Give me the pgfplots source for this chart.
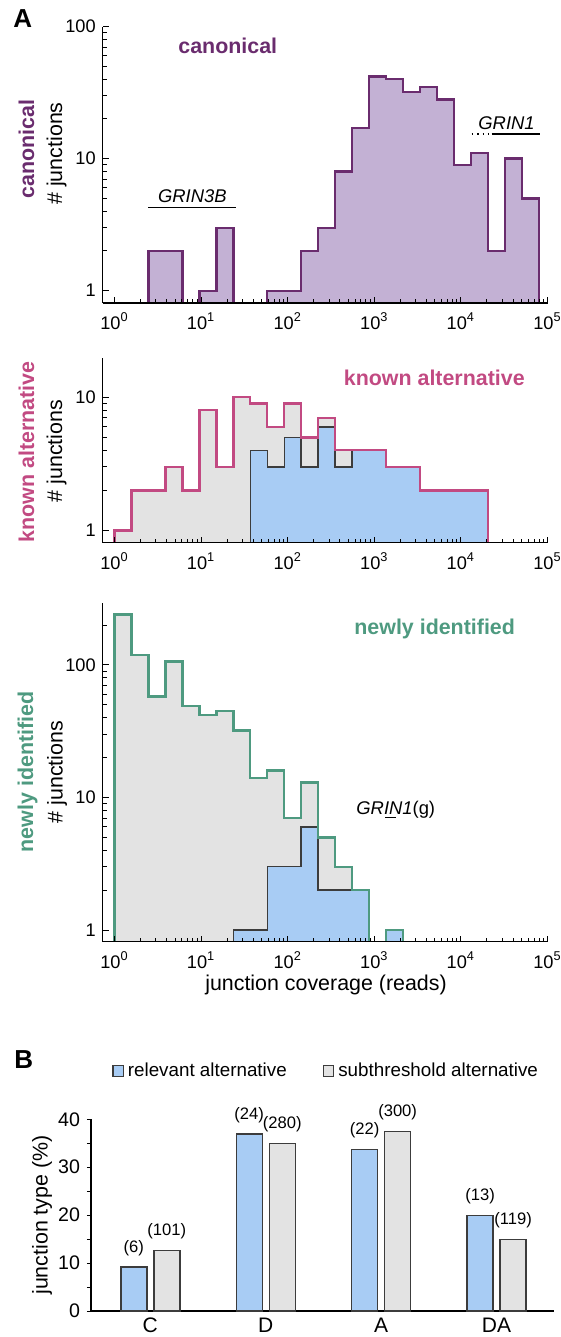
\documentclass[border=0pt]{standalone}
\usepackage{fontspec}
\setmainfont{Liberation Sans}
\usepackage{pgfplots}
\pgfplotsset{compat=1.18}

\definecolor{purpL}{HTML}{6A2C6E}
\definecolor{purpF}{HTML}{C3B1D4}
\definecolor{pinkL}{HTML}{C24A82}
\definecolor{greenL}{HTML}{4E9A80}
\definecolor{blueF}{HTML}{A8CCF4}
\definecolor{grayF}{HTML}{E3E3E3}
\definecolor{outl}{HTML}{3C3C3C}

\newcommand\tickfont{\fontsize{9.1}{10.5}\selectfont}
\newcommand\labfont{\fontsize{10.7}{12.5}\selectfont}
\newcommand\genefont{\fontsize{9.2}{11}\selectfont\itshape}

\pgfplotsset{
 histax/.style={
  anchor=south west, scale only axis, width=222.35pt,
  xmin=0.733, xmax=100000,
  axis x line=bottom, axis y line=left,
  axis line style={-, line width=0.6pt},
  tick align=inside, axis on top,
  major tick length=3pt, minor tick length=2pt,
  tick style={black, line width=0.5pt},
  tick label style={font=\tickfont},
  xtick={1,10,100,1000,10000,100000},
  xticklabels={10\textsuperscript{0},10\textsuperscript{1},10\textsuperscript{2},10\textsuperscript{3},10\textsuperscript{4},10\textsuperscript{5}},
  minor xtick={2,3,4,5,6,7,8,9,20,30,40,50,60,70,80,90,200,300,400,500,600,700,800,900,2000,3000,4000,5000,6000,7000,8000,9000,20000,30000,40000,50000,60000,70000,80000,90000},
  xticklabel style={yshift=-1.5pt},
 }
}

\begin{document}
\begin{tikzpicture}
\useasboundingbox (0,0) rectangle (280.5pt,-668.5pt);

% ---------------- canonical ----------------
\begin{axis}[xmode=log, ymode=log, histax, at={(51.4pt,-151.5pt)}, height=138.15pt,
  ymin=0.807, ymax=100, ytick={1,10,100}, yticklabels={1,10,100},
  minor ytick={2,3,4,5,6,7,8,9,20,30,40,50,60,70,80,90}]
\addplot[fill=purpF, draw=purpL, line width=1.2pt] coordinates {
(2.466,0.5) (2.466,2) (6.081,2) (6.081,0.5) (9.550,0.5) (9.550,1) (15.00,1) (15.00,3) (23.55,3) (23.55,0.5)
(58.08,0.5) (58.08,1) (143.2,1) (143.2,2) (224.9,2) (224.9,3) (353.2,3) (353.2,8) (554.6,8) (554.6,17)
(871.0,17) (871.0,42) (1368,42) (1368,40) (2148,40) (2148,32) (3373,32) (3373,35) (5297,35) (5297,28)
(8318,28) (8318,9) (13062,9) (13062,11) (20512,11) (20512,2) (32211,2) (32211,10) (50582,10) (50582,5)
(79433,5) (79433,0.5)};
\end{axis}

% ---------------- known alternative ----------------
\begin{axis}[xmode=log, ymode=log, histax, at={(51.4pt,-271.35pt)}, height=92.2pt,
  ymin=0.81, ymax=19.6, ytick={1,10}, yticklabels={1,10},
  minor ytick={2,3,4,5,6,7,8,9}]
\addplot[fill=grayF, draw=none] coordinates {
(1,0.5) (1,1) (1.570,1) (1.570,2) (3.873,2) (3.873,3) (6.081,3) (6.081,2) (9.550,2) (9.550,8)
(15.00,8) (15.00,3) (23.55,3) (23.55,10) (36.98,10) (36.98,9) (58.08,9) (58.08,6) (91.20,6) (91.20,9)
(143.2,9) (143.2,5) (224.9,5) (224.9,7) (353.2,7) (353.2,4) (1368,4) (1368,3) (3373,3) (3373,2)
(20512,2) (20512,0.5)};
\addplot[fill=blueF, draw=outl, line width=0.7pt] coordinates {
(36.98,0.5) (36.98,4) (58.08,4) (58.08,3) (91.20,3) (91.20,5) (143.2,5) (143.2,3) (224.9,3) (224.9,6)
(353.2,6) (353.2,3) (554.6,3) (554.6,4) (1368,4) (1368,3) (3373,3) (3373,2) (20512,2) (20512,0.5)};
\addplot[fill=none, draw=pinkL, line width=1.2pt] coordinates {
(1,0.5) (1,1) (1.570,1) (1.570,2) (3.873,2) (3.873,3) (6.081,3) (6.081,2) (9.550,2) (9.550,8)
(15.00,8) (15.00,3) (23.55,3) (23.55,10) (36.98,10) (36.98,9) (58.08,9) (58.08,6) (91.20,6) (91.20,9)
(143.2,9) (143.2,5) (224.9,5) (224.9,7) (353.2,7) (353.2,4) (1368,4) (1368,3) (3373,3) (3373,2)
(20512,2) (20512,0.5)};
\end{axis}

% ---------------- newly identified ----------------
\begin{axis}[xmode=log, ymode=log, histax, at={(51.4pt,-470.85pt)}, height=169.2pt,
  ymin=0.816, ymax=292, ytick={1,10,100}, yticklabels={1,10,100},
  minor ytick={2,3,4,5,6,7,8,9,20,30,40,50,60,70,80,90,200}]
\addplot[fill=grayF, draw=none] coordinates {
(1,0.5) (1,240) (1.570,240) (1.570,119) (2.466,119) (2.466,58) (3.873,58) (3.873,106) (6.081,106) (6.081,49)
(9.550,49) (9.550,42) (15.00,42) (15.00,45) (23.55,45) (23.55,32) (36.98,32) (36.98,14) (58.08,14) (58.08,16)
(91.20,16) (91.20,7) (143.2,7) (143.2,13) (224.9,13) (224.9,5) (353.2,5) (353.2,3) (554.6,3) (554.6,2)
(871.0,2) (871.0,0.5) (1368,0.5) (1368,1) (2148,1) (2148,0.5)};
\addplot[fill=blueF, draw=outl, line width=0.7pt] coordinates {
(23.55,0.5) (23.55,1) (58.08,1) (58.08,3) (143.2,3) (143.2,6) (224.9,6) (224.9,2) (871.0,2) (871.0,0.5)
(1368,0.5) (1368,1) (2148,1) (2148,0.5)};
\addplot[fill=none, draw=greenL, line width=1.2pt] coordinates {
(1,0.5) (1,240) (1.570,240) (1.570,119) (2.466,119) (2.466,58) (3.873,58) (3.873,106) (6.081,106) (6.081,49)
(9.550,49) (9.550,42) (15.00,42) (15.00,45) (23.55,45) (23.55,32) (36.98,32) (36.98,14) (58.08,14) (58.08,16)
(91.20,16) (91.20,7) (143.2,7) (143.2,13) (224.9,13) (224.9,5) (353.2,5) (353.2,3) (554.6,3) (554.6,2)
(871.0,2) (871.0,0.5) (1368,0.5) (1368,1) (2148,1) (2148,0.5)};
\end{axis}

% ---------------- B: bar chart ----------------
\begin{axis}[at={(45.5pt,-655.5pt)}, anchor=south west, scale only axis,
  width=231.5pt, height=95.85pt,
  xmin=-0.514, xmax=3.498, ymin=0, ymax=40,
  axis x line=bottom, axis y line=left,
  axis line style={-, line width=0.6pt},
  tick align=outside, major tick length=2pt, minor tick length=2pt,
  tick style={black, line width=0.5pt},
  ytick={0,10,20,30,40}, yticklabels={0,10,20,30,40}, minor ytick={5,15,25,35},
  yticklabel style={font=\fontsize{9.8}{11}\selectfont},
  xtick={0,1,2,3}, xticklabels={C,D,A,DA}, xtick style={draw=none},
  xticklabel style={font=\fontsize{10.5}{12}\selectfont, yshift=2.2pt},
  ybar, bar width=13pt,
  nodes near coords, point meta=explicit symbolic,
  nodes near coords style={font=\fontsize{8.3}{10}\selectfont, yshift=2pt},
  legend columns=2,
  legend style={draw=none, fill=none, at={(0.51,1.252)}, anchor=center,
    font=\fontsize{9.4}{11}\selectfont,
    /tikz/every even column/.append style={column sep=16pt}},
  legend image code/.code={\draw[#1, line width=0.6pt] (0pt,-2.6pt) rectangle (5.2pt,2.6pt);},
]
\addplot[fill=blueF, draw=outl, line width=0.7pt, bar shift=-8.25pt] coordinates {
(0,9.2) [(6)] (1,36.9) [(24)] (2,33.7) [(22)] (3,19.9) [(13)]};
\addplot[fill=grayF, draw=outl, line width=0.7pt, bar shift=8.25pt] coordinates {
(0,12.6) [(101)] (1,34.9) [(280)] (2,37.4) [(300)] (3,14.9) [(119)]};
\legend{relevant alternative, subthreshold alternative}
\end{axis}

% ---------------- texts ----------------
\node[anchor=base west, inner sep=0, font=\fontsize{13}{15}\selectfont\bfseries] at (6.5pt,-14pt) {A};
\node[anchor=base west, inner sep=0, font=\fontsize{13}{15}\selectfont\bfseries] at (7pt,-534pt) {B};

\node[anchor=base west, inner sep=0, font=\labfont\bfseries, text=purpL] at (89pt,-26.65pt) {canonical};
\node[anchor=base west, inner sep=0, font=\labfont\bfseries, text=pinkL] at (171.75pt,-192.5pt) {known alternative};
\node[anchor=base west, inner sep=0, font=\labfont\bfseries, text=greenL] at (177pt,-317pt) {newly identified};

\node[rotate=90, anchor=base, inner sep=0, font=\labfont\bfseries, text=purpL] at (17pt,-74.5pt) {canonical};
\node[rotate=90, anchor=base, inner sep=0, font=\labfont] at (31.1pt,-76.75pt) {\# junctions};
\node[rotate=90, anchor=base, inner sep=0, font=\labfont\bfseries, text=pinkL] at (17pt,-226pt) {known alternative};
\node[rotate=90, anchor=base, inner sep=0, font=\labfont] at (31.1pt,-225.5pt) {\# junctions};
\node[rotate=90, anchor=base, inner sep=0, font=\labfont\bfseries, text=greenL] at (16.5pt,-386pt) {newly identified};
\node[rotate=90, anchor=base, inner sep=0, font=\labfont] at (31.25pt,-386pt) {\# junctions};

\node[anchor=base, inner sep=0, font=\labfont] at (163pt,-495pt) {junction coverage (reads)};
\node[rotate=90, anchor=base, inner sep=0, font=\labfont] at (23.75pt,-607.5pt) {junction type (\%)};

% gene annotations
\node[anchor=base west, inner sep=0, font=\genefont] at (78.85pt,-101.5pt) {GRIN3B};
\draw[line width=0.7pt] (74pt,-103.65pt) -- (117.85pt,-103.65pt);
\node[anchor=base west, inner sep=0, font=\genefont] at (239pt,-65pt) {GRIN1};
\draw[line width=0.7pt, dotted] (235.85pt,-67pt) -- (245.85pt,-67pt);
\draw[line width=0.9pt] (245.85pt,-67pt) -- (270pt,-67pt);
\node[anchor=base west, inner sep=0, font=\fontsize{9.2}{11}\selectfont] at (178pt,-407pt) {\textit{GRIN1}(g)};
\draw[line width=0.7pt] (192.5pt,-408.85pt) -- (198pt,-408.85pt);
\end{tikzpicture}
\end{document}
